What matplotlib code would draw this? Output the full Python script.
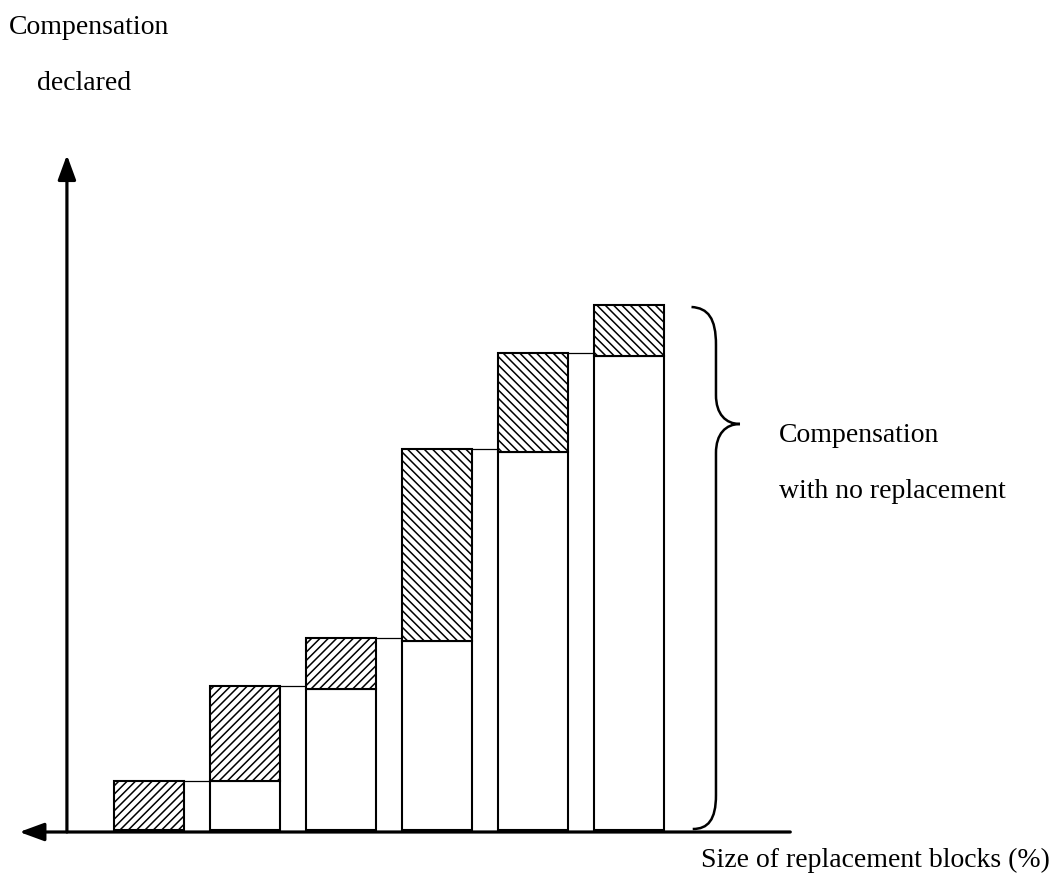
import numpy as np
import matplotlib.pyplot as plt
from matplotlib.path import Path
from matplotlib.patches import PathPatch

plt.rcParams['font.family'] = ['Liberation Serif', 'DejaVu Serif']
plt.rcParams['hatch.linewidth'] = 1.1

# (arbitrary compensation units)
blocks = [1, 2, 3, 4, 5, 6]
no_replacement = [0, 9.8, 28.2, 37.8, 75.6, 94.8]     # white part
declared = [9.8, 28.8, 38.4, 76.2, 95.4, 105.0]        # top of hatched part
hatches = ['////', '////', '////', '\\\\\\\\', '\\\\\\\\', '\\\\\\\\']
brace_tip = 81.2

W, H = 1056, 876
fig = plt.figure(figsize=(W / 100, H / 100), dpi=100)
ax = fig.add_axes([0, 0, 1, 1])
ax.set_xlim(-53 / 96, (W - 53) / 96)
ax.set_ylim(-46 / 5, 830 / 5)
ax.axis('off')

bw = 0.72
x = np.array(blocks)
base = np.array(no_replacement)
top = np.array(declared)

# white part (compensation with no replacement)
ax.bar(x, base, width=bw, color='white', edgecolor='black', lw=1.5, zorder=2)
# hatched part (extra declared)
for xi, b, t, h in zip(x, base, top, hatches):
    ax.bar(xi, t - b, bottom=b, width=bw, color='white', edgecolor='black',
           lw=1.5, hatch=h, zorder=2)

# thin connectors between consecutive blocks
for i in range(len(x) - 1):
    ax.plot([x[i] + bw / 2, x[i + 1] - bw / 2], [top[i], top[i]],
            color='black', lw=0.9, zorder=1)

# axes with arrows
arrow = dict(arrowstyle='-|>,head_length=1.5,head_width=0.55', mutation_scale=10,
             lw=2.3, color='black', shrinkA=0, shrinkB=0)
ax.annotate('', xy=(0.145, 135), xytext=(0.145, -0.4), arrowprops=arrow)
ax.annotate('', xy=(-0.35, -0.4), xytext=(7.68, -0.4), arrowprops=arrow)

# curly brace beside the bars
xv, hw, tw = 6.906, 0.255, 0.25
y0, y1 = 0.2, top[-1] - 0.4
verts = [(xv - hw, y1), (xv - hw * 0.33, y1 - 0.2), (xv, y1 - 2.2), (xv, y1 - 7.6),
         (xv, brace_tip + 5.8),
         (xv, brace_tip + 2), (xv + tw * 0.4, brace_tip), (xv + tw, brace_tip),
         (xv + tw * 0.4, brace_tip), (xv, brace_tip - 2), (xv, brace_tip - 5.8),
         (xv, y0 + 6.8),
         (xv, y0 + 1.8), (xv - hw * 0.33, y0), (xv - hw * 0.95, y0)]
codes = [Path.MOVETO, Path.CURVE4, Path.CURVE4, Path.CURVE4,
         Path.LINETO,
         Path.CURVE4, Path.CURVE4, Path.CURVE4,
         Path.CURVE4, Path.CURVE4, Path.CURVE4,
         Path.LINETO,
         Path.CURVE4, Path.CURVE4, Path.CURVE4]
ax.add_patch(PathPatch(Path(verts, codes), fill=False, lw=1.8, color='black'))

fs = 20
def label(px, py, s):
    fig.text(px / W, 1 - py / H, s, fontsize=fs, va='baseline', ha='left')

label(9, 34, 'Compensation')
label(37, 90, 'declared')
label(779, 442, 'Compensation')
label(779, 498, 'with no replacement')
label(701, 867, 'Size of replacement blocks (%)')

fig.savefig('out.png', dpi=100)
